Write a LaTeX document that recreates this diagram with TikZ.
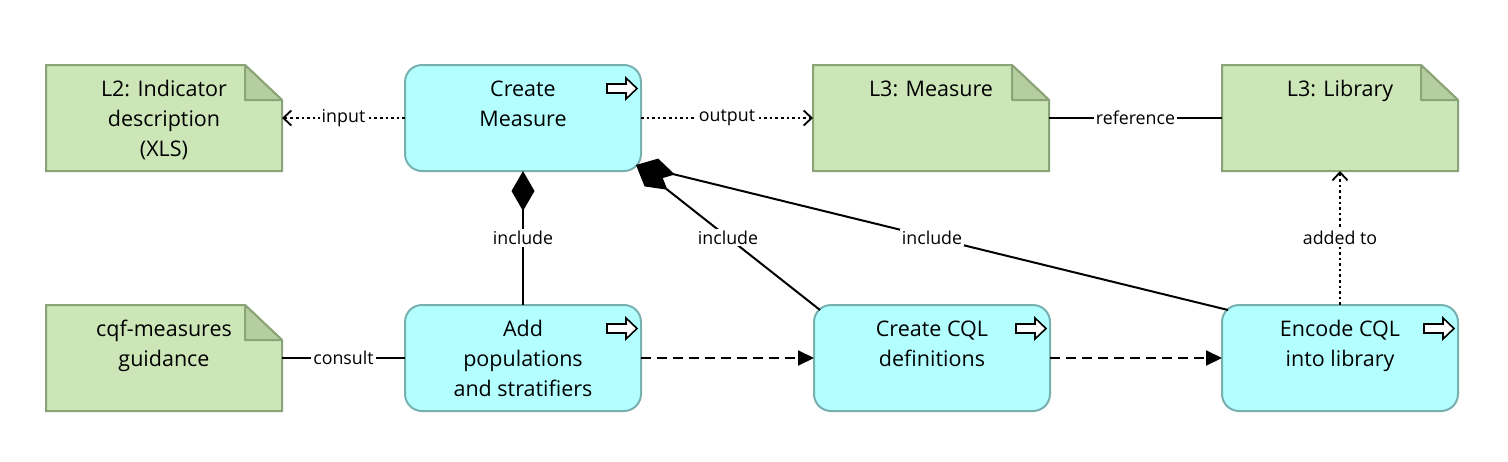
\documentclass[tikz,border=0pt]{standalone}
\usepackage{fontspec}
\setmainfont{Open Sans}
\usetikzlibrary{arrows.meta,calc}
\definecolor{docfill}{RGB}{204,230,184}
\definecolor{docline}{RGB}{138,164,120}
\definecolor{docfold}{RGB}{181,206,160}
\definecolor{procfill}{RGB}{179,255,255}
\definecolor{procline}{RGB}{120,176,176}
\newcommand\docshape[1]{%
  \draw[docline,fill=docfill,line width=2pt] (#1.north west) -- ($(#1.north east)+(-37,0)$) -- ($(#1.north east)+(0,35)$) -- (#1.south east) -- (#1.south west) -- cycle;
  \draw[docline,fill=docfold,line width=2pt,line join=round] ($(#1.north east)+(-37,0)$) -- ($(#1.north east)+(-37,35)$) -- ($(#1.north east)+(0,35)$) -- cycle;}
\newcommand\procicon[1]{%
  \draw[line width=1.6pt,fill=white] ($(#1.north east)+(-34,19)$) -- ++(19,0) -- ++(0,-6) -- ++(11,10.5) -- ++(-11,10.5) -- ++(0,-6) -- ++(-19,0) -- cycle;}
\begin{document}
\begin{tikzpicture}[x=1pt,y=-1pt,
  box/.style={minimum width=236pt,minimum height=106pt,inner sep=0pt,outer sep=0pt,anchor=north west},
  proc/.style={box,draw=procline,fill=procfill,line width=2pt,rounded corners=17pt},
  doc/.style={box},
  txt/.style={anchor=north,inner sep=0pt,align=center,font=\fontsize{21.5}{30}\selectfont},
  conn/.style={line width=2pt},
  lbl/.style={fill=white,inner sep=2pt,font=\fontsize{17.8}{20}\selectfont},
  dot/.style={line width=2.3pt,dash pattern=on 2.6pt off 3pt},
  dsh/.style={conn,dash pattern=on 10pt off 6pt},
  openhead/.style={-{Straight Barb[length=8pt,width=15pt,line width=1.8pt]}},
  fillhead/.style={-{Triangle[length=16pt,width=15pt]}},
  diahead/.style={-{Diamond[length=40pt,width=23pt]}}
]
\useasboundingbox (0,0) rectangle (1508,461);

\node[doc] (l2) at (46,65) {};
\node[proc] (cm) at (405,65) {};
\node[doc] (l3m) at (813,65) {};
\node[doc] (l3l) at (1222,65) {};
\node[doc] (cqf) at (46,305) {};
\node[proc] (ap) at (405,305) {};
\node[proc] (cc) at (814,305) {};
\node[proc] (ec) at (1222,305) {};

\docshape{l2}
\docshape{l3m}
\docshape{l3l}
\docshape{cqf}
\procicon{cm}
\procicon{ap}
\procicon{cc}
\procicon{ec}

\node[txt] (l2t) at ($(l2.north)+(0,10)$) {\strut L2: Indicator\\description\\(XLS)};
\node[txt] (cmt) at ($(cm.north)+(0,10)$) {\strut Create\\Measure};
\node[txt] (l3mt) at ($(l3m.north)+(0,10)$) {\strut L3: Measure};
\node[txt] (l3lt) at ($(l3l.north)+(0,10)$) {\strut L3: Library};
\node[txt] (cqft) at ($(cqf.north)+(0,10)$) {\strut cqf-measures\\guidance};
\node[txt] (apt) at ($(ap.north)+(0,10)$) {\strut Add\\populations\\and stratifiers};
\node[txt] (cct) at ($(cc.north)+(0,10)$) {\strut Create CQL\\definitions};
\node[txt] (ect) at ($(ec.north)+(0,10)$) {\strut Encode CQL\\into library};

\coordinate (cmc) at ($(cm.south east)+(-5,-6)$);
\coordinate (ccs) at ($(cc.north west)+(6,5)$);
\coordinate (ecs) at ($(ec.north west)+(6,5)$);

\draw[dot,openhead] (cm.west) -- node[lbl]{input} (l2.east);
\draw[dot,openhead] (cm.east) -- node[lbl]{output} (l3m.west);
\draw[conn] (l3m.east) -- node[lbl]{reference} (l3l.west);
\draw[conn,diahead] (ap.north) -- node[lbl]{include} (cm.south);
\draw[conn,diahead] (ccs) -- node[lbl]{include} (cmc);
\draw[conn,diahead] (ecs) -- node[lbl]{include} (cmc);
\draw[dot,openhead] (ec.north) -- node[lbl]{added to} (l3l.south);
\draw[conn] (cqf.east) -- node[lbl]{consult} (ap.west);
\draw[dsh,fillhead] (ap.east) -- (cc.west);
\draw[dsh,fillhead] (cc.east) -- (ec.west);
\end{tikzpicture}
\end{document}
